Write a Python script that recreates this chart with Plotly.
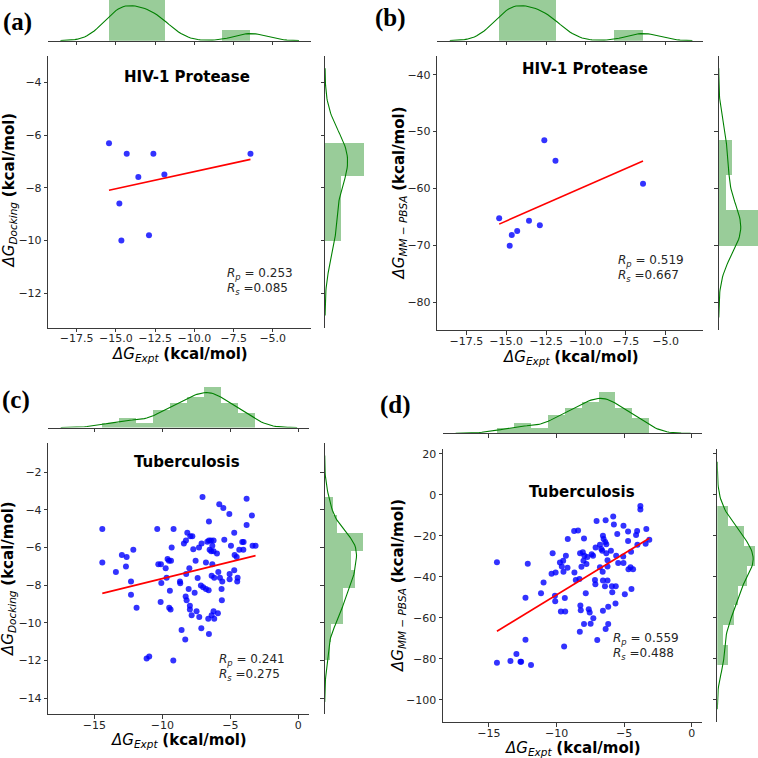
import numpy as np
import plotly.graph_objects as go

# ---------------- data ----------------
# HIV-1 Protease
hiv_expt = [-15.44, -14.78, -14.65, -14.31, -13.57, -12.89, -12.61, -11.91, -6.42]
hiv_docking = [-6.30, -8.59, -10.00, -6.70, -7.59, -9.80, -6.70, -7.49, -6.70]
hiv_mmpbsa = [-65.24, -70.04, -68.17, -67.47, -65.65, -66.47, -51.50, -55.10, -59.15]

# Tuberculosis
tb_expt = [-14.41, -14.41, -13.41, -12.97, -12.67, -12.62, -12.30, -12.30, -12.13, -11.89,
           -11.15, -10.96, -10.37, -10.29, -10.12, -10.10, -10.07, -9.75, -9.68, -9.61,
           -9.51, -9.49, -9.44, -9.39, -9.36, -9.31, -9.19, -9.17, -8.70, -8.68,
           -8.58, -8.41, -8.31, -8.28, -8.26, -8.24, -8.21, -8.16, -8.06, -8.01,
           -7.97, -7.97, -7.94, -7.84, -7.79, -7.72, -7.62, -7.55, -7.48, -7.40,
           -7.30, -7.28, -7.16, -7.13, -7.11, -7.04, -6.99, -6.79, -6.79, -6.69,
           -6.62, -6.59, -6.57, -6.57, -6.57, -6.52, -6.42, -6.40, -6.37, -6.37,
           -6.32, -6.32, -6.23, -6.23, -6.23, -6.18, -6.18, -5.98, -5.91, -5.88,
           -5.81, -5.76, -5.62, -5.64, -5.59, -5.51, -5.44, -5.07, -5.05, -5.05,
           -4.95, -4.71, -4.71, -4.68, -4.53, -4.49, -4.46, -4.34, -4.12, -4.04,
           -4.02, -3.80, -3.80, -3.41, -3.36, -3.14]
tb_docking = [-5.01, -6.80, -7.30, -6.40, -7.01, -6.50, -7.80, -8.51, -6.11, -9.20,
              -11.90, -11.79, -5.01, -6.89, -8.89, -6.89, -7.88, -7.10, -7.60, -6.61,
              -6.70, -9.20, -8.29, -9.30, -6.70, -6.00, -12.00, -5.01, -7.80, -7.90,
              -10.39, -5.79, -10.89, -8.60, -5.62, -7.41, -8.80, -5.21, -8.20, -7.10,
              -9.10, -9.30, -5.40, -9.60, -5.40, -6.09, -8.40, -6.70, -9.39, -7.62,
              -5.99, -9.69, -8.02, -10.29, -5.79, -3.31, -8.11, -6.80, -8.20, -5.69,
              -9.79, -8.27, -5.62, -4.61, -10.59, -6.11, -5.62, -6.20, -7.50, -9.60,
              -5.90, -6.89, -5.62, -6.20, -9.39, -7.60, -9.79, -6.31, -9.49, -7.30,
              -3.70, -7.60, -8.80, -8.20, -7.80, -3.90, -5.59, -4.21, -7.41, -7.69,
              -5.90, -5.21, -7.20, -6.40, -6.50, -7.80, -7.60, -6.11, -5.70, -6.11,
              -5.70, -4.80, -3.40, -4.30, -5.90, -5.90]
tb_mmpbsa = [-32.9, -82.0, -81.1, -77.7, -81.5, -81.5, -50.2, -70.7, -33.7, -83.1,
             -48.0, -42.8, -38.5, -28.6, -49.3, -51.9, -37.9, -33.0, -56.9, -35.0,
             -32.2, -37.6, -74.0, -50.4, -56.9, -29.8, -35.6, -21.6, -17.7, -37.9,
             -41.6, -17.4, -41.1, -66.8, -28.6, -54.0, -56.4, -35.1, -28.1, -32.2,
             -21.3, -63.1, -29.8, -48.1, -33.8, -30.4, -55.8, -57.4, -62.9, -29.0,
             -29.8, -60.3, -41.6, -43.7, -25.7, -12.8, -70.9, -35.4, -24.4, -26.5,
             -27.3, -37.6, -20.0, -56.6, -41.8, -21.6, -44.7, -23.1, -12.5, -65.5,
             -24.2, -28.5, -32.0, -35.0, -41.8, -63.1, -54.6, -27.3, -44.7, -47.6,
             -10.6, -14.5, -44.7, -53.0, -29.8, -19.2, -33.3, -30.1, -15.1, -33.3,
             -48.5, -22.6, -17.9, -36.3, -35.4, -27.8, -46.0, -36.3, -19.7, -17.7,
             -24.4, -5.5, -7.2, -23.9, -16.7, -22.0]

panel_letters = ["(a)", "(b)", "(c)", "(d)"]
panel_titles = ["HIV-1 Protease", "HIV-1 Protease", "Tuberculosis", "Tuberculosis"]
rp_values = ["0.253", "0.519", "0.241", "0.559"]
rs_values = ["0.085", "0.667", "0.275", "0.488"]
y_label_subs = ["Docking", "MM − PBSA", "Docking", "MM − PBSA"]
# histogram bin counts (top = ΔG_Expt, right = predicted)
bins_top = [5, 5, 9, 9]
bins_right = [3, 3, 9, 8]

# ---------------- helpers ----------------
W = H = 758


def px_x(p):
    return p / W


def px_y(p):
    return 1 - p / H


def kde_curve(v):
    v = np.asarray(v, float)
    n = len(v)
    q75, q25 = np.percentile(v, [75, 25])
    a = min(np.std(v, ddof=1), (q75 - q25) / 1.349)
    bw = 1.059 * a * n ** -0.2
    grid = np.linspace(v.min() - 3 * bw, v.max() + 3 * bw, 100)
    dens = np.exp(-0.5 * ((grid[:, None] - v[None, :]) / bw) ** 2).sum(1) / (n * bw * np.sqrt(2 * np.pi))
    return grid, dens


def hist(v, nb):
    dens, edges = np.histogram(np.asarray(v, float), bins=nb, density=True)
    return dens, edges


# layout per panel (pixels)
panels = [
    dict(x=hiv_expt, y=hiv_docking, main=(48.3, 310.7, 56, 327.7), xr=(-19.31, -2.58), yr=(-13.31, -2.99),
         xdt=2.5, xt0=-17.5, xfmt=".1f", ydt=2, top_axis=40.7, right_axis=325.0, mh=43, mw=41,
         letter=(17, 22), title=(186.7, 77.3), stats=(225, 274, 289), xlab=(179.5, 354), ylab=(8.5, 190)),
    dict(x=hiv_expt, y=hiv_mmpbsa, main=(437.3, 703.3, 56, 330), xr=(-19.32, -2.64), yr=(-84.87, -36.71),
         xdt=2.5, xt0=-17.5, xfmt=".1f", ydt=10, top_axis=40.7, right_axis=718.7, mh=43, mw=41,
         letter=(390, 18), title=(585, 69.3), stats=(616, 260.7, 275.7), xlab=(570.5, 357.5), ylab=(398.5, 193)),
    dict(x=tb_expt, y=tb_docking, main=(48.3, 309.3, 443, 714), xr=(-18.38, 0.81), yr=(-14.85, -0.44),
         xdt=5, xt0=-15, xfmt="", ydt=2, top_axis=427.5, right_axis=324.7, mh=43, mw=40,
         letter=(16, 400), title=(187.3, 461.7), stats=(217, 660, 674.7), xlab=(179, 740.5), ylab=(8.5, 578.5)),
    dict(x=tb_expt, y=tb_mmpbsa, main=(443, 702.3, 449, 722.3), xr=(-18.40, 0.78), yr=(-111.0, 22.3),
         xdt=5, xt0=-15, xfmt="", ydt=20, top_axis=433.3, right_axis=717.3, mh=43, mw=40,
         letter=(395, 405), title=(582.3, 492.3), stats=(611, 638.7, 653.7), xlab=(573, 748.5), ylab=(398.5, 585.5)),
]

AX_COLOR = "#3a3a3a"
TICK_FONT = dict(family="DejaVu Sans", size=11, color="#262626")
HIST_COLOR = "rgba(0,128,0,0.4)"
KDE_COLOR = "#008000"

fig = go.Figure()
layout = dict(width=W, height=H, margin=dict(l=0, r=0, t=0, b=0), showlegend=False,
              paper_bgcolor="white", plot_bgcolor="white", annotations=[])


def axname(kind, k):
    return f"{kind}axis" if k == 1 else f"{kind}axis{k}"


def ref(kind, k):
    return kind if k == 1 else f"{kind}{k}"


base_axis = dict(showgrid=False, zeroline=False, showline=True, linecolor=AX_COLOR, linewidth=1,
                 ticks="outside", ticklen=3.5, tickwidth=1, tickcolor=AX_COLOR, tickfont=TICK_FONT,
                 autorange=False, fixedrange=True)

for i, p in enumerate(panels):
    km, kt, kr = 3 * i + 1, 3 * i + 2, 3 * i + 3
    l, r, t, b = p["main"]
    xv = np.asarray(p["x"], float)
    yv = np.asarray(p["y"], float)

    # --- main axes
    layout[axname("x", km)] = dict(base_axis, domain=[px_x(l), px_x(r)], anchor=ref("y", km),
                                   range=list(p["xr"]), tick0=p["xt0"], dtick=p["xdt"], tickformat=p["xfmt"],
                                   ticklabelstandoff=-3)
    layout[axname("y", km)] = dict(base_axis, domain=[px_y(b), px_y(t)], anchor=ref("x", km),
                                   range=list(p["yr"]), tick0=0, dtick=p["ydt"])

    # scatter
    fig.add_trace(go.Scatter(x=xv, y=yv, mode="markers", xaxis=ref("x", km), yaxis=ref("y", km),
                             marker=dict(color="rgba(0,0,255,0.8)", size=6, line=dict(width=0)),
                             hoverinfo="skip"))
    # regression line
    slope, icpt = np.polyfit(xv, yv, 1)
    lx = np.array([xv.min(), xv.max()])
    fig.add_trace(go.Scatter(x=lx, y=icpt + slope * lx, mode="lines", xaxis=ref("x", km), yaxis=ref("y", km),
                             line=dict(color="#ff0000", width=1.6), hoverinfo="skip"))

    # --- top marginal
    hd, he = hist(xv, bins_top[i])
    kg, kd = kde_curve(xv)
    ymax = 1.05 * max(hd.max(), kd.max())
    top_px = p["top_axis"] - p["mh"]
    scale = 1.0
    if top_px < 0:
        scale = p["top_axis"] / p["mh"]
        top_px = 0
    layout[axname("x", kt)] = dict(base_axis, domain=[px_x(l), px_x(r)], anchor=ref("y", kt),
                                   range=list(p["xr"]), tick0=p["xt0"], dtick=p["xdt"], showticklabels=False)
    layout[axname("y", kt)] = dict(domain=[px_y(p["top_axis"]), px_y(top_px)], anchor=ref("x", kt),
                                   range=[0, ymax * scale], visible=False, autorange=False, fixedrange=True)
    fig.add_trace(go.Bar(x=(he[:-1] + he[1:]) / 2, y=hd, width=np.diff(he), xaxis=ref("x", kt),
                         yaxis=ref("y", kt), marker=dict(color=HIST_COLOR, line=dict(width=0)), hoverinfo="skip"))
    fig.add_trace(go.Scatter(x=kg, y=kd, mode="lines", xaxis=ref("x", kt), yaxis=ref("y", kt),
                             line=dict(color=KDE_COLOR, width=1.1), hoverinfo="skip"))

    # --- right marginal
    hd2, he2 = hist(yv, bins_right[i])
    kg2, kd2 = kde_curve(yv)
    xmax = 1.05 * max(hd2.max(), kd2.max())
    right_px = p["right_axis"] + p["mw"]
    scale2 = 1.0
    if right_px > W:
        scale2 = (W - p["right_axis"]) / p["mw"]
        right_px = W
    layout[axname("y", kr)] = dict(base_axis, domain=[px_y(b), px_y(t)], anchor=ref("x", kr),
                                   range=list(p["yr"]), tick0=0, dtick=p["ydt"], showticklabels=False)
    layout[axname("x", kr)] = dict(domain=[px_x(p["right_axis"]), px_x(right_px)], anchor=ref("y", kr),
                                   range=[0, xmax * scale2], visible=False, autorange=False, fixedrange=True)
    fig.add_trace(go.Bar(y=(he2[:-1] + he2[1:]) / 2, x=hd2, width=np.diff(he2), orientation="h",
                         xaxis=ref("x", kr), yaxis=ref("y", kr),
                         marker=dict(color=HIST_COLOR, line=dict(width=0)), hoverinfo="skip"))
    fig.add_trace(go.Scatter(x=kd2, y=kg2, mode="lines", xaxis=ref("x", kr), yaxis=ref("y", kr),
                             line=dict(color=KDE_COLOR, width=1.1), hoverinfo="skip"))

    # --- texts
    ann = layout["annotations"]
    ann.append(dict(text=f"<b>{panel_letters[i]}</b>", x=px_x(p["letter"][0]), y=px_y(p["letter"][1]),
                    xref="paper", yref="paper", showarrow=False, xanchor="center", yanchor="middle",
                    font=dict(family="Liberation Serif", size=25, color="black")))
    ann.append(dict(text=f"<b>{panel_titles[i]}</b>", x=px_x(p["title"][0]), y=px_y(p["title"][1]),
                    xref="paper", yref="paper", showarrow=False, xanchor="center", yanchor="middle",
                    font=dict(family="DejaVu Sans", size=15, color="black")))
    sx, sy1, sy2 = p["stats"]
    ann.append(dict(text=f"<i>R</i><sub><i>p</i></sub> = {rp_values[i]}", x=px_x(sx), y=px_y(sy1),
                    xref="paper", yref="paper", showarrow=False, xanchor="left", yanchor="middle",
                    font=dict(family="DejaVu Sans", size=12, color="#262626")))
    ann.append(dict(text=f"<i>R</i><sub><i>s</i></sub> ={rs_values[i]}", x=px_x(sx), y=px_y(sy2),
                    xref="paper", yref="paper", showarrow=False, xanchor="left", yanchor="middle",
                    font=dict(family="DejaVu Sans", size=12, color="#262626")))
    ann.append(dict(text="<i>ΔG</i><sub><i>Expt</i></sub> <b>(kcal/mol)</b>", x=px_x(p["xlab"][0]),
                    y=px_y(p["xlab"][1]), xref="paper", yref="paper", showarrow=False,
                    xanchor="center", yanchor="middle",
                    font=dict(family="DejaVu Sans", size=15, color="black")))
    ann.append(dict(text=f"<i>ΔG</i><sub><i>{y_label_subs[i]}</i></sub> <b>(kcal/mol)</b>",
                    x=px_x(p["ylab"][0]), y=px_y(p["ylab"][1]), xref="paper", yref="paper",
                    showarrow=False, xanchor="center", yanchor="middle", textangle=-90,
                    font=dict(family="DejaVu Sans", size=15, color="black")))

fig.update_layout(**layout)
fig.update_layout(bargap=0)
fig.write_html("out.html", config={"displayModeBar": False},
               post_script="document.body.style.margin='0px';document.body.style.overflow='hidden';")
